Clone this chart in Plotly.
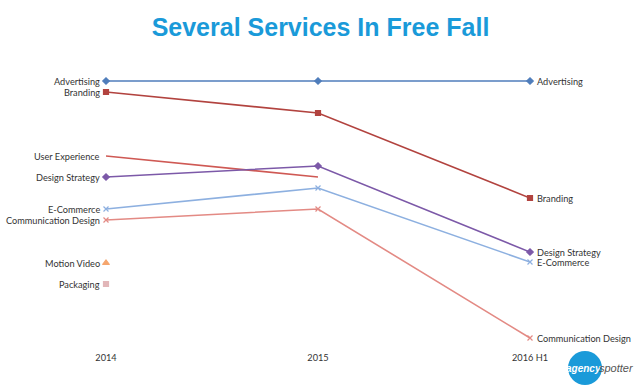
import plotly.graph_objects as go

periods = ["2014", "2015", "2016 H1"]
services = ["Advertising", "Branding", "User Experience", "Design Strategy",
            "E-Commerce", "Communication Design", "Motion Video", "Packaging"]
advertising = [27.9, 27.9, 27.9]
branding = [26.8, 24.7, 16.2]
user_experience = [20.4, 18.3, None]
design_strategy = [18.3, 19.4, 10.8]
e_commerce = [15.1, 17.2, 9.8]
communication_design = [14.0, 15.1, 2.2]
motion_video = [9.7, None, None]
packaging = [7.6, None, None]

series = [advertising, branding, user_experience, design_strategy,
          e_commerce, communication_design, motion_video, packaging]
colors = ["#4f7dbb", "#b2433f", "#cf5954", "#7c59a8", "#8db0e0", "#e38a84", "#f5a66e", "#e2b6b8"]
symbols = ["diamond", "square", "circle", "diamond", "x-thin", "x-thin", "triangle-up", "square"]
msize = [5, 5, 0, 5, 5, 5, 6, 5]

LABEL_FONT = dict(family="Lato, Noto Sans, sans-serif", size=9.2, color="#333333")

fig = go.Figure()
xs = list(range(len(periods)))
for name, vals, c, s, ms in zip(services, series, colors, symbols, msize):
    last = max(i for i, v in enumerate(vals) if v is not None)
    if ms == 0:
        mode = "lines"
    else:
        mode = "lines+markers" if last > 0 else "markers"
    fig.add_trace(go.Scatter(
        x=xs, y=vals, mode=mode,
        line=dict(color=c, width=1.6),
        marker=dict(symbol=s, size=max(ms, 1), color=c, line=dict(color=c, width=1.2)),
        cliponaxis=False, showlegend=False, name=name))
    # start label (left) and end label (right)
    fig.add_annotation(x=xs[0], y=vals[0], text=name, showarrow=False,
                       xanchor="right", yanchor="middle", xshift=-4, font=LABEL_FONT)
    if vals[-1] is not None:
        fig.add_annotation(x=xs[-1], y=vals[-1], text=name, showarrow=False,
                           xanchor="left", yanchor="middle", xshift=5, font=LABEL_FONT)

fig.update_layout(
    width=641, height=391,
    margin=dict(l=106, r=111, t=70, b=46),
    paper_bgcolor="white", plot_bgcolor="white",
    title=dict(text="<b>Several Services In Free Fall</b>", x=0.5, xanchor="center",
               y=0.952, yanchor="top",
               font=dict(family="Liberation Sans, Arial, sans-serif", size=25, color="#1a9ad9")),
    xaxis=dict(range=[0, 2], tickvals=xs, ticktext=periods, showgrid=False, zeroline=False,
               showline=False, ticks="", tickfont=LABEL_FONT, ticklabelstandoff=6),
    yaxis=dict(range=[1.5, 29], visible=False, showgrid=False),
)

# agency spotter logo
fig.add_shape(type="circle", xref="paper", yref="paper",
              x0=(568 - 106) / 424, x1=(602 - 106) / 424,
              y0=(345 - 385) / 275, y1=(345 - 351) / 275,
              fillcolor="#1a9ad9", line=dict(width=0), layer="above")
fig.add_annotation(x=(600 - 106) / 424, y=(345 - 368) / 275, xref="paper", yref="paper",
                   text="<b><i>agency</i></b>", showarrow=False, xanchor="right", yanchor="middle",
                   borderpad=0, xshift=2,
                   font=dict(family="Liberation Sans Narrow, Liberation Sans, Arial", size=10, color="white"))
fig.add_annotation(x=(598 - 106) / 424, y=(345 - 368) / 275, xref="paper", yref="paper",
                   text="<i>spotter</i>", showarrow=False, xanchor="left", yanchor="middle",
                   borderpad=0,
                   font=dict(family="Liberation Sans Narrow, Liberation Sans, Arial", size=11, color="#555555"))

fig.write_html("out.html", config={"displayModeBar": False},
               post_script="document.body.style.margin='0';document.body.style.padding='0';")
